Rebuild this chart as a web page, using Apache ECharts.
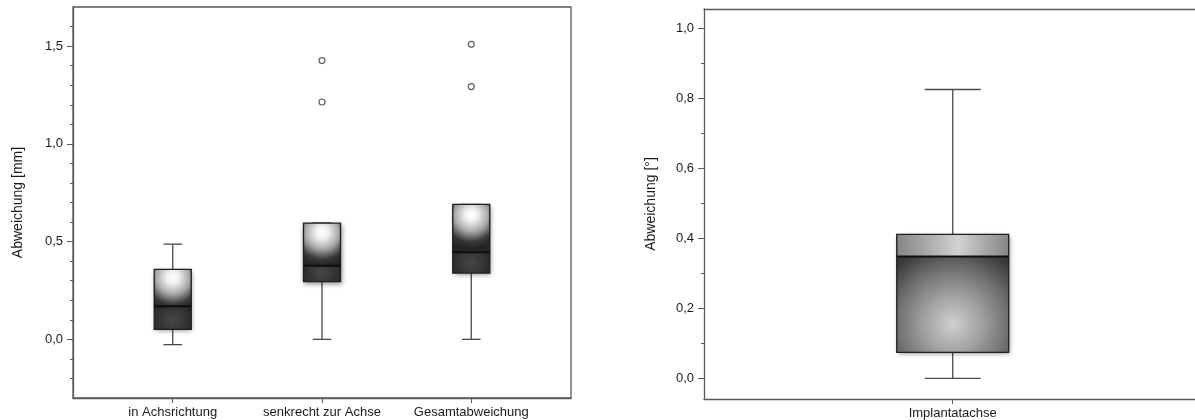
<!DOCTYPE html>
<html><head><meta charset="utf-8">
<script src="https://cdn.jsdelivr.net/npm/echarts@6/dist/echarts.min.js"></script>
<style>html,body{margin:0;padding:0;background:#fff}#c{width:1195px;height:420px}</style>
</head><body><div id="c"></div>
<script>
// ---- data ----
const leftCategories = ['in Achsrichtung', 'senkrecht zur Achse', 'Gesamtabweichung'];
// [min, Q1, median, Q3, max]
const leftBoxes = [
  [-0.027, 0.051, 0.169, 0.358, 0.487],
  [0.000, 0.295, 0.377, 0.595, 0.595],
  [0.000, 0.339, 0.445, 0.690, 0.690]
];
// [category index, value]
const leftOutliers = [[1, 1.426], [1, 1.214], [2, 1.509], [2, 1.293]];
const leftTicks = [0, 0.5, 1.0, 1.5];
const leftMinorTicks = [-0.2, -0.1, 0.1, 0.2, 0.3, 0.4, 0.6, 0.7, 0.8, 0.9, 1.1, 1.2, 1.3, 1.4, 1.6];

const rightCategories = ['Implantatachse'];
const rightBoxes = [
  [0.000, 0.074, 0.348, 0.411, 0.825]
];
const rightTicks = [0, 0.2, 0.4, 0.6, 0.8, 1.0];
const rightMinorTicks = [0.1, 0.3, 0.5, 0.7, 0.9];

// ---- rendering ----
const FONT = 'Liberation Sans, Arial, sans-serif';
const AX = '#5a5a5a';
const fmt = v => v.toFixed(1).replace('.', ',');
const G = echarts.graphic;

function makeRender(kind, halfW) {
  return function (params, api) {
    const x = api.value(0);
    const vmin = api.value(1), q1 = api.value(2), med = api.value(3), q3 = api.value(4), vmax = api.value(5);
    const xl = api.coord([x - halfW, q3])[0], xr = api.coord([x + halfW, q3])[0];
    const cx = api.coord([x, q3])[0];
    const yQ3 = api.coord([x, q3])[1], yQ1 = api.coord([x, q1])[1];
    const yMed = api.coord([x, med])[1];
    const yMin = api.coord([x, vmin])[1], yMax = api.coord([x, vmax])[1];
    const cl = api.coord([x - halfW / 2, q3])[0], cr = api.coord([x + halfW / 2, q3])[0];
    const w = xr - xl, h = yQ1 - yQ3;
    const wl = {stroke: '#4a4a4a', lineWidth: 1.3};
    const children = [
      {type: 'line', shape: {x1: cx, y1: yMax, x2: cx, y2: yQ3}, style: wl},
      {type: 'line', shape: {x1: cx, y1: yQ1, x2: cx, y2: yMin}, style: wl},
      {type: 'line', shape: {x1: cl, y1: yMax, x2: cr, y2: yMax}, style: wl},
      {type: 'line', shape: {x1: cl, y1: yMin, x2: cr, y2: yMin}, style: wl}
    ];
    let baseFill, topFill;
    if (kind === 'left') {
      baseFill = new G.RadialGradient(0.5, 0.85, 0.8, [
        {offset: 0, color: '#474747'}, {offset: 1, color: '#1c1c1c'}]);
      topFill = new G.RadialGradient(0.5, 0.22, 0.9, [
        {offset: 0, color: '#ffffff'}, {offset: 0.18, color: '#f2f2f2'},
        {offset: 0.5, color: '#a8a8a8'}, {offset: 0.8, color: '#3a3a3a'},
        {offset: 1, color: '#242424'}]);
    } else {
      baseFill = new G.RadialGradient(0.5, 0.76, 0.72, [
        {offset: 0, color: '#cfcfcf'}, {offset: 0.35, color: '#a2a2a2'},
        {offset: 0.7, color: '#6e6e6e'}, {offset: 1, color: '#3a3a3a'}]);
      topFill = new G.LinearGradient(0, 0, 1, 0, [
        {offset: 0, color: '#858585'}, {offset: 0.55, color: '#d2d2d2'},
        {offset: 1, color: '#858585'}]);
    }
    children.push({type: 'rect', shape: {x: xl, y: yQ3, width: w, height: h},
      style: {fill: baseFill, shadowBlur: 5, shadowColor: 'rgba(0,0,0,0.45)', shadowOffsetX: 1, shadowOffsetY: 2}});
    children.push({type: 'rect', shape: {x: xl, y: yQ3, width: w, height: yMed - yQ3},
      style: {fill: topFill}});
    children.push({type: 'rect', shape: {x: xl, y: yQ3, width: w, height: h},
      style: {fill: 'none', stroke: '#1e1e1e', lineWidth: 1.3}});
    children.push({type: 'line', shape: {x1: xl, y1: yMed, x2: xr, y2: yMed},
      style: {stroke: '#0e0e0e', lineWidth: 2}});
    return {type: 'group', children};
  };
}

function yMain(grid, min, max, ticks, name, gap) {
  return {
    type: 'value', gridIndex: grid, min, max, position: 'left',
    name, nameLocation: 'middle', nameGap: gap, nameRotate: 90,
    nameTextStyle: {fontFamily: FONT, fontSize: 14, color: '#1a1a1a'},
    axisLine: {show: true, onZero: false, lineStyle: {color: AX, width: 1.3}},
    axisTick: {show: true, customValues: ticks, length: 6, lineStyle: {color: AX, width: 1}},
    axisLabel: {customValues: ticks, formatter: fmt, margin: 10, fontFamily: FONT, fontSize: 13, color: '#1a1a1a'},
    splitLine: {show: false}
  };
}
function yMinor(grid, min, max, ticks) {
  return {
    type: 'value', gridIndex: grid, min, max, position: 'left',
    axisLine: {show: false, onZero: false},
    axisTick: {show: true, customValues: ticks, length: 3, lineStyle: {color: AX, width: 1}},
    axisLabel: {show: false}, splitLine: {show: false}
  };
}
function xAxis(grid, min, max, cats) {
  const vals = cats.map((c, i) => i);
  return {
    type: 'value', gridIndex: grid, min, max, position: 'bottom',
    axisLine: {show: true, onZero: false, lineStyle: {color: AX, width: 1.3}},
    axisTick: {show: true, customValues: vals, length: 5, lineStyle: {color: AX, width: 1}},
    axisLabel: {customValues: vals, formatter: v => cats[Math.round(v)] || '', margin: 8,
      fontFamily: FONT, fontSize: 13, color: '#1a1a1a'},
    splitLine: {show: false}
  };
}
function xTopLine(grid, min, max) {
  return {
    type: 'value', gridIndex: grid, min, max, position: 'top',
    axisLine: {show: true, onZero: false, lineStyle: {color: AX, width: 1.3}},
    axisTick: {show: false}, axisLabel: {show: false}, splitLine: {show: false}
  };
}

const chart = echarts.init(document.getElementById('c'), null, {renderer: 'canvas'});
chart.setOption({
  animation: false,
  backgroundColor: '#fff',
  grid: [
    {left: 73, top: 7, width: 498, height: 391, show: true, borderColor: AX, borderWidth: 1.3, backgroundColor: 'transparent'},
    {left: 704, top: 9, width: 491, height: 392, show: false}
  ],
  xAxis: [
    xAxis(0, -0.668, 2.668, leftCategories),
    xAxis(1, -0.5, 0.487, rightCategories),
    xTopLine(1, -0.5, 0.487)
  ],
  yAxis: [
    yMain(0, -0.3, 1.7, leftTicks, 'Abweichung [mm]', 48),
    yMinor(0, -0.3, 1.7, leftMinorTicks),
    yMain(1, -0.059, 1.055, rightTicks, 'Abweichung [°]', 46),
    yMinor(1, -0.059, 1.055, rightMinorTicks)
  ],
  series: [
    {type: 'custom', xAxisIndex: 0, yAxisIndex: 0, renderItem: makeRender('left', 0.124),
      encode: {x: 0, y: [1, 2, 3, 4, 5]}, data: leftBoxes.map((b, i) => [i].concat(b)), z: 2},
    {type: 'scatter', xAxisIndex: 0, yAxisIndex: 0, symbol: 'circle', symbolSize: 6,
      itemStyle: {color: '#fff', borderColor: '#333', borderWidth: 1.2}, data: leftOutliers, z: 3},
    {type: 'custom', xAxisIndex: 1, yAxisIndex: 2, renderItem: makeRender('right', 0.1125),
      encode: {x: 0, y: [1, 2, 3, 4, 5]}, data: rightBoxes.map((b, i) => [i].concat(b)), z: 2}
  ]
});
</script>
</body></html>
